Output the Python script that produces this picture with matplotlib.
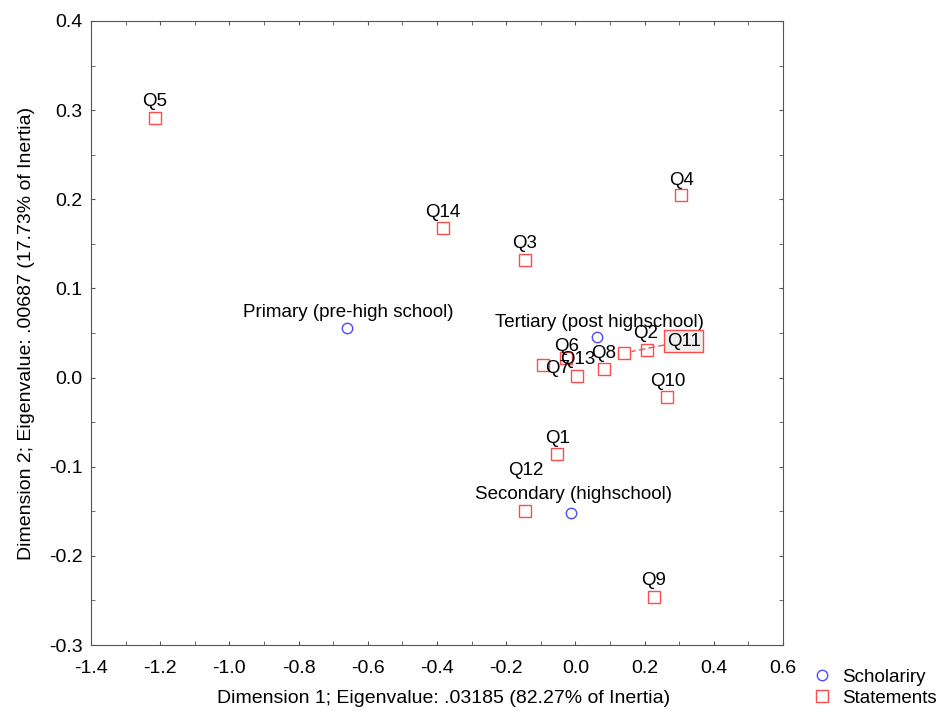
import matplotlib
matplotlib.use('Agg')
import matplotlib.pyplot as plt
from matplotlib.ticker import MultipleLocator, FormatStrFormatter

plt.rcParams['font.family'] = ['Liberation Sans', 'DejaVu Sans']

# row points (scholarity levels)
school_names = ['Primary (pre-high school)', 'Tertiary (post highschool)', 'Secondary (highschool)']
school_x = [-0.660, 0.062, -0.013]
school_y = [0.056, 0.045, -0.152]

# column points (statements)
stmt_names = ['Q1', 'Q2', 'Q3', 'Q4', 'Q5', 'Q6', 'Q7', 'Q8', 'Q9', 'Q10', 'Q11', 'Q12', 'Q13', 'Q14']
stmt_x = [-0.053, 0.207, -0.146, 0.305, -1.215, -0.027, -0.094, 0.083, 0.227, 0.265, 0.140, -0.146, 0.004, -0.383]
stmt_y = [-0.086, 0.031, 0.132, 0.205, 0.291, 0.022, 0.014, 0.0095, -0.246, -0.022, 0.0275, -0.150, 0.002, 0.168]

# label offsets in points
lab_off = {
    'Primary (pre-high school)': (0.7, 11), 'Tertiary (post highschool)': (2, 11),
    'Secondary (highschool)': (2, 13.7),
    'Q1': (0, 11.5), 'Q2': (-0.7, 11.5), 'Q3': (0, 11.5), 'Q4': (0.7, 10), 'Q5': (0, 12),
    'Q6': (0.7, 8), 'Q7': (10.8, -2.2), 'Q8': (0, 11.5), 'Q9': (0, 12), 'Q10': (0.7, 11.5),
    'Q12': (0.7, 29.5), 'Q13': (0.7, 11.5), 'Q14': (0, 11),
}

red = '#ff4b4b'
blue = '#4b4bff'

fig = plt.figure(figsize=(9.46, 7.11), dpi=100)
ax = fig.add_axes([0.0962, 0.0928, 0.7315, 0.8777])

ax.plot(school_x, school_y, 'o', ls='none', mfc='none', mec=blue, ms=7.5, mew=1.0, label='Scholariry', zorder=3)
ax.plot(stmt_x, stmt_y, 's', ls='none', mfc='none', mec=red, ms=8, mew=1.0, label='Statements', zorder=3)

for n, x, y in zip(school_names + stmt_names, school_x + stmt_x, school_y + stmt_y):
    if n == 'Q11':
        ax.annotate(n, (x, y), xytext=(43, 8.6), textcoords='offset points',
                    ha='center', va='center', fontsize=13.5,
                    bbox=dict(boxstyle='square,pad=0.12', fc='#eeeeee', ec=red, lw=1),
                    arrowprops=dict(arrowstyle='-', color=red, ls=(0, (4, 3)), lw=1, shrinkA=0, shrinkB=6))
        continue
    ax.annotate(n, (x, y), xytext=lab_off[n], textcoords='offset points',
                ha='center', va='center', fontsize=13.5)

ax.set_xlim(-1.4, 0.6)
ax.set_ylim(-0.3, 0.4)
ax.xaxis.set_major_locator(MultipleLocator(0.2))
ax.xaxis.set_minor_locator(MultipleLocator(0.1))
ax.yaxis.set_major_locator(MultipleLocator(0.1))
ax.yaxis.set_minor_locator(MultipleLocator(0.05))
ax.xaxis.set_major_formatter(FormatStrFormatter('%.1f'))
ax.yaxis.set_major_formatter(FormatStrFormatter('%.1f'))
ax.tick_params(which='both', direction='in', top=True, right=True, length=3, color='#555555', labelsize=14)
ax.tick_params(axis='x', which='major', pad=11)
ax.tick_params(axis='y', which='major', pad=6)
for s in ax.spines.values():
    s.set_color('#555555')

ax.set_xlabel('Dimension 1; Eigenvalue: .03185 (82.27% of Inertia)', fontsize=14)
ax.set_ylabel('Dimension 2; Eigenvalue: .00687 (17.73% of Inertia)', fontsize=14, labelpad=10)
ax.xaxis.set_label_coords(0.51, -0.072)

fig.legend(loc='lower left', bbox_to_anchor=(0.845, -0.01), frameon=False, fontsize=13.5,
           handletextpad=0.5, labelspacing=0.2, handlelength=1.2, borderaxespad=0.2)

fig.savefig('out.png', dpi=100)
